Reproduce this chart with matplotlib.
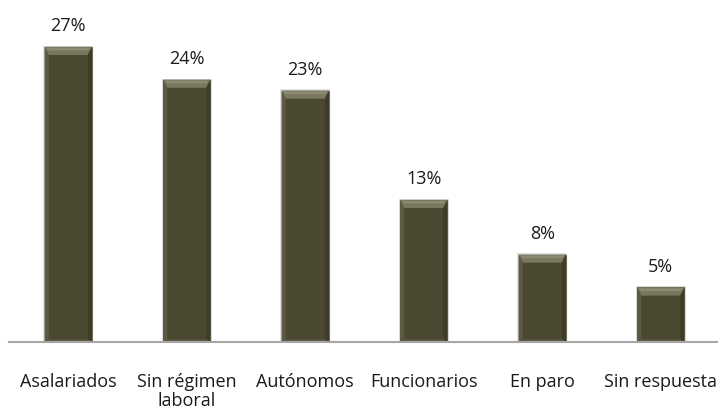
import matplotlib
matplotlib.use("Agg")
import matplotlib.pyplot as plt
from matplotlib.patches import Polygon

categories = ["Asalariados", "Sin régimen\nlaboral", "Autónomos", "Funcionarios", "En paro", "Sin respuesta"]
values = [27, 24, 23, 13, 8, 5]
labels = ["27%", "24%", "23%", "13%", "8%", "5%"]

plt.rcParams['font.family'] = ['Open Sans', 'DejaVu Sans']

fig = plt.figure(figsize=(7.18, 4.14), dpi=100)
ax = fig.add_axes([9/718, 71/414, 711/718, (343-15)/414])

x = list(range(len(categories)))
bars = ax.bar(x, values, width=0.4, color="#4b4832", edgecolor="#6f6c56", linewidth=0.8, zorder=2)

# bevel decoration derived from each bar's geometry
bx_side = 0.035   # horizontal bevel (data units)
by_top = 0.75     # vertical bevel at top
by_bot = 0.25
for b in bars:
    x0, w, h = b.get_x(), b.get_width(), b.get_height()
    x1 = x0 + w
    ax.add_patch(Polygon([(x0, h), (x1, h), (x1 - bx_side, h - by_top), (x0 + bx_side, h - by_top)],
                         closed=True, facecolor="#7a775f", edgecolor="none", zorder=3))
    ax.add_patch(Polygon([(x0 + 0.01, h - 0.1), (x1 - 0.01, h - 0.1), (x1 - bx_side, h - by_top * 0.45), (x0 + bx_side, h - by_top * 0.45)],
                         closed=True, facecolor="#8c8a72", edgecolor="none", zorder=3))
    ax.add_patch(Polygon([(x0, h), (x0 + bx_side, h - by_top), (x0 + bx_side, by_bot), (x0, 0)],
                         closed=True, facecolor="#5d5a43", edgecolor="none", zorder=3))
    ax.add_patch(Polygon([(x1, h), (x1 - bx_side, h - by_top), (x1 - bx_side, by_bot), (x1, 0)],
                         closed=True, facecolor="#3e3b28", edgecolor="none", zorder=3))
    ax.add_patch(Polygon([(x0, 0), (x1, 0), (x1 - bx_side, by_bot), (x0 + bx_side, by_bot)],
                         closed=True, facecolor="#5a5741", edgecolor="none", zorder=3))
    ax.add_patch(Polygon([(x0 - 0.012, 0), (x0 - 0.012, h + 0.1), (x1 + 0.012, h + 0.1), (x1 + 0.012, 0)],
                         closed=True, facecolor="#e0e0e0", edgecolor="none", zorder=1))

for xi, v, lab in zip(x, values, labels):
    ax.text(xi, v + 1.5, lab, ha="center", va="baseline", fontsize=13, color="#1a1a1a")

ax.set_xlim(-0.5, len(categories) - 0.5)
ax.set_ylim(0, 30)
ax.set_xticks(x)
ax.set_xticklabels(categories, fontsize=13, color="#1a1a1a", linespacing=1.05)
ax.tick_params(axis="x", length=0, pad=21.5)
ax.set_yticks([])
for s in ["top", "right", "left"]:
    ax.spines[s].set_visible(False)
ax.spines["bottom"].set_color("#a6a6a6")
ax.spines["bottom"].set_linewidth(1.5)
ax.spines["bottom"].set_zorder(4)

fig.savefig("out.png", dpi=100)
